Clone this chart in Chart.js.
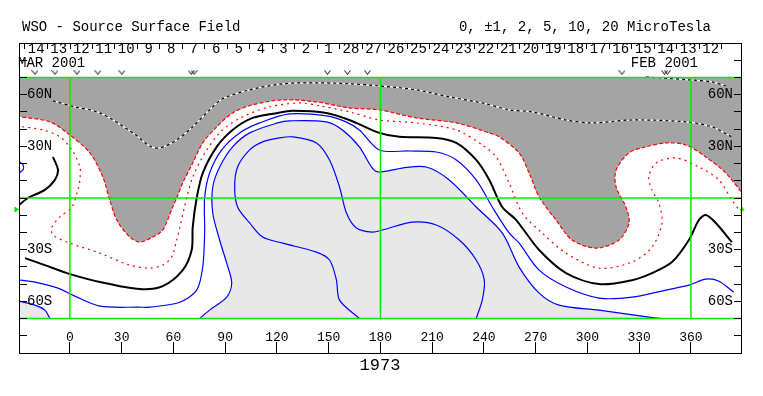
<!DOCTYPE html>
<html>
<head>
<meta charset="utf-8">
<title>WSO - Source Surface Field</title>
<script src="https://cdn.jsdelivr.net/npm/chart.js@4.4.1/dist/chart.umd.min.js"></script>
<style>
  html, body { margin: 0; padding: 0; background: #fff; }
  #wrap { width: 763px; height: 396px; }
</style>
</head>
<body>
<div id="wrap"><canvas id="sourceChart"></canvas></div>
<script>
// Оси: долгота (Кэррингтон) и широта
const lonMin = -29.5, lonMax = 389.0;
const latMin = -90, latMax = 90;
const lonTicks = [0, 30, 60, 90, 120, 150, 180, 210, 240, 270, 300, 330, 360];
const latTicks = [80, 70, 60, 50, 40, 30, 20, 10, 0, -10, -20, -30, -40, -50, -60, -70, -80];
const latLabelValues = [60, 30, -30, -60];
const latLabelTexts = ['60N', '30N', '30S', '60S'];

// Дни оборота (верхняя шкала)
const dayEdges = [-26.0, -13.0, 0.1, 13.1, 26.1, 39.2, 52.2, 65.2, 78.2, 91.3, 104.3, 117.3, 130.4, 143.4, 156.4, 169.5,
  182.5, 195.5, 208.5, 221.6, 234.6, 247.6, 260.7, 273.7, 286.7, 299.7, 312.8, 325.8, 338.8, 351.9, 364.9, 377.9];
const dayLabels = ['14', '13', '12', '11', '10', '9', '8', '7', '6', '5', '4', '3', '2', '1',
  '28', '27', '26', '25', '24', '23', '22', '21', '20', '19', '18', '17', '16', '15', '14', '13', '12'];
const obsLons = [-20.3, -8.7, 4.1, 16.2, 30.1, 70.3, 72.0, 149.3, 160.9, 172.5, 320.0, 344.6, 346.3];
const obsLat = 73;
const earthLat = -6.7;

// Зелёные опорные линии
const guideLats = [70, 0, -70];
const guideLons = [0, 180, 360];

// Граница отрицательной области (красный пунктир, тёмная заливка)
const negEdgeLon = [-31, -11.6, 0, 11.6, 19.1, 23.1, 27.2, 34.7, 40.5, 48.0, 53.8, 59.6, 61.9, 65.4, 71.2, 77.0, 85.1, 94.3,
  105.9, 123.3, 142.9, 162.0, 179.4, 200.8, 224.0, 243.1, 248.8, 260.4, 266.2, 272.0, 281.8, 291.1, 305.0, 318.3, 324.1,
  322.3, 316.6, 316.6, 324.1, 333.9, 345.5, 357.1, 368.6, 380.2, 390];
const negEdgeLat = [47.5, 44.2, 36.6, 26.2, 12.2, -1.2, -12.8, -22.7, -25.6, -22.7, -18.6, -5.2, 0, 8.7, 20.3, 32.0, 41.3, 49.4,
  54.1, 57.0, 55.8, 52.3, 51.2, 46.5, 43.6, 37.8, 35.5, 26.2, 14.5, 0.6, -12.8, -24.4, -29.1, -24.4, -14.5,
  -5.2, 6.4, 16.3, 26.2, 29.7, 32.0, 30.8, 23.8, 14.5, 2.5];

// Внутренний контур в тёмной области (чёрно-белый пунктир)
const negCoreLon = [-9.8, 2.9, 17.4, 36.5, 46.3, 52.1, 61.9, 71.2, 81.0, 88.5, 104.2, 123.3, 142.9, 162.0, 179.4, 200.8,
  219.9, 239.0, 254.6, 267.9, 287.6, 302.7, 325.8, 357.1, 372.1, 383.7];
const negCoreLat = [56.4, 52.9, 49.4, 37.8, 30.2, 29.1, 33.7, 41.3, 51.2, 57.6, 62.8, 66.3, 66.9, 66.3, 65.1, 62.8,
  58.7, 55.2, 51.2, 50.0, 45.3, 43.6, 45.3, 44.2, 41.3, 35.5];
const negCapLon = [334.0, 358.8, 372.1, 380.2];
const negCapLat = [70.3, 68.6, 67.4, 65.1];

// Второй отрицательный контур (красные точки)
const negRingLon = [-31, -15.6, -5.8, 1.2, 5.8, 5.8, 4.6, 1.2, -5.8, -10.4, -9.8, 0, 17.4, 34.7, 46.3, 53.8, 59.0, 61.9,
  63.7, 67.7, 71.2, 79.3, 88.5, 100.1, 115.7, 133.1, 144.7, 162.0, 179.4, 200.8, 224.0, 239.0, 247.1, 254.6, 262.2,
  273.7, 287.6, 306.7, 325.8, 337.4, 343.2, 341.4, 337.4, 335.6, 339.7, 351.3, 364.6, 376.2, 383.7, 390];
const negRingLat = [41.8, 39.5, 35.5, 27.9, 18.0, 10.5, 4.7, -5.2, -11.0, -16.9, -21.5, -26.2, -32.0, -39.0, -40.7, -39.0, -34.3, -24.4,
  -16.9, 0, 12.2, 27.9, 39.5, 47.1, 52.9, 55.2, 53.5, 50.0, 45.3, 43.6, 39.5, 30.8, 23.8, 8.7, -8.7,
  -20.3, -32.0, -40.7, -37.2, -28.5, -14.5, -2.9, 4.7, 12.2, 20.3, 23.3, 18.0, 10.5, -1.2, -9.5];

// Нейтральная линия (чёрная)
const zeroArcLon = [-9.8, -6.9, -8.7, -14.5, -24.3, -31];
const zeroArcLat = [23.8, 16.3, 10.5, 4.7, 0, -5.4];
const zeroLon = [-26.0, -14.5, -1.7, 17.4, 40.5, 53.8, 65.4, 70.6, 71.2, 73.5, 77.0, 85.1, 94.3, 105.9, 120.4, 129.1, 148.7,
  162.0, 179.4, 191.0, 212.4, 224.0, 235.5, 243.1, 250.6, 258.7, 272.0, 287.6, 306.7, 325.8, 337.4, 349.0, 358.8,
  364.6, 368.6, 374.4, 383.7];
const zeroLat = [-34.9, -39.0, -43.6, -48.8, -52.9, -51.2, -41.9, -30.2, -16.9, 0, 14.5, 29.7, 39.5, 46.5, 49.4, 50.6, 49.4,
  45.3, 37.8, 35.5, 34.9, 32.0, 22.1, 10.5, -5.2, -12.8, -30.2, -43.6, -50.0, -47.7, -43.6, -37.2, -24.4,
  -12.8, -9.9, -14.5, -25.6];

// Положительные контуры (синие)
const posOuterLon = [-31, -20.3, -6.9, 2.9, 17.4, 40.5, 46.3, 63.7, 73.5, 77.0, 78.1, 78.1, 81.0, 88.0, 98.4, 110.0, 127.3,
  148.7, 160.0, 167.8, 179.4, 196.8, 212.4, 224.0, 235.5, 244.8, 254.6, 260.4, 272.0, 287.6, 306.7, 325.8, 345.5,
  358.8, 368.6, 376.2, 384.8];
const posOuterLat = [-47.4, -48.8, -52.3, -57.0, -62.8, -63.4, -63.4, -60.5, -53.5, -40.1, -20.3, 0, 14.5, 27.9, 37.8, 43.6, 48.8,
  47.7, 44.2, 39.5, 27.9, 27.3, 26.7, 22.1, 10.5, -5.2, -20.3, -26.2, -41.9, -51.7, -58.1, -57.6, -53.5,
  -50.6, -47.1, -48.3, -54.7];
const posMidLon = [75.2, 81.0, 90.9, 93.8, 90.9, 86.8, 82.8, 82.8, 86.8, 94.3, 104.2, 120.4, 127.3, 148.7, 158.0, 167.8,
  175.3, 179.4, 192.7, 206.6, 219.9, 235.5, 250.6, 260.4, 272.0, 283.6, 306.7, 335.6, 343.2];
const posMidLat = [-70, -65.1, -57.6, -49.4, -37.8, -24.4, -8.7, 6.4, 18.0, 29.7, 37.8, 43.6, 44.8, 44.2, 39.5, 29.7,
  17.4, 15.1, 17.4, 18.0, 10.5, -5.2, -20.3, -40.1, -55.2, -62.2, -65.1, -69.2, -70];
const posCornerLon = [-31, -20.3, -14.5, -11.6];
const posCornerLat = [-59.5, -62.2, -65.1, -70];
const posInnerLon = [167.8, 156.3, 154.5, 150.5, 142.9, 123.3, 111.7, 104.2, 97.2, 95.5, 97.2, 104.2, 111.7, 121.5, 129.1,
  142.9, 150.5, 156.3, 160.3, 166.1, 175.3, 181.1, 198.5, 212.4, 225.7, 235.5, 240.2, 239.0, 235.5];
const posInnerLat = [-70, -59.3, -47.7, -36.0, -31.4, -26.2, -22.7, -14.5, -5.2, 6.4, 18.0, 27.9, 32.6, 34.9, 35.5,
  32.0, 22.1, 6.4, -8.7, -17.4, -19.8, -18.6, -14.0, -15.7, -24.4, -36.0, -47.7, -59.3, -70];
const posArcLon = [-31, -27.2, -27.2, -31];
const posArcLat = [22.5, 19.2, 16.3, 13.6];

const titleText = 'WSO - Source Surface Field';
const unitsText = '0, \u00b11, 2, 5, 10, 20 MicroTesla';
const startMonth = 'MAR 2001';
const endMonth = 'FEB 2001';
const rotationLabel = '1973';

const FONT = '"Liberation Mono", "DejaVu Sans Mono", monospace';

// Точки контура из массивов долгот и широт
function points(lons, lats) {
    return lons.map((x, i) => ({ x: x, y: lats[i] }));
}

function contour(lons, lats, color, width, dash, extra) {
    return Object.assign({
        data: points(lons, lats),
        showLine: true,
        borderColor: color,
        borderWidth: width,
        borderDash: dash || [],
        pointRadius: 0,
        fill: false,
        order: 5
    }, extra || {});
}

// Маленький значок "v" для отметок наблюдений
function makeVMark() {
    const c = document.createElement('canvas');
    c.width = 7;
    c.height = 5;
    const g = c.getContext('2d');
    g.strokeStyle = '#000';
    g.lineWidth = 1;
    g.beginPath();
    g.moveTo(0.5, 0.5);
    g.lineTo(3.5, 4.5);
    g.lineTo(6.5, 0.5);
    g.stroke();
    return c;
}

function latLabel(v) {
    const k = latLabelValues.indexOf(v);
    return k >= 0 ? latLabelTexts[k] : '';
}

function buildDatasets() {
    const sets = [];
    // заливки вместе со своими контурами
    sets.push(contour(negEdgeLon, negEdgeLat, '#ff0000', 1.2, [4, 2],
        { fill: { value: 70 }, backgroundColor: '#a4a4a4', order: 10 }));
    sets.push(contour(posMidLon, posMidLat, '#0000ff', 1.2, [],
        { fill: { value: -70 }, backgroundColor: '#e8e8e8', order: 9 }));
    sets.push(contour(posCornerLon, posCornerLat, '#0000ff', 1.2, [],
        { fill: { value: -70 }, backgroundColor: '#e8e8e8', order: 9 }));

    // линии
    sets.push(contour(negCoreLon, negCoreLat, '#ffffff', 1.2, [], { order: 6 }));
    sets.push(contour(negCoreLon, negCoreLat, '#000000', 1.2, [3, 3]));
    sets.push(contour(negCapLon, negCapLat, '#ffffff', 1.2, [], { order: 6 }));
    sets.push(contour(negCapLon, negCapLat, '#000000', 1.2, [3, 3]));
    sets.push(contour(negRingLon, negRingLat, '#ff0000', 1.2, [2, 4]));
    sets.push(contour(zeroArcLon, zeroArcLat, '#000000', 2));
    sets.push(contour(zeroLon, zeroLat, '#000000', 2));
    sets.push(contour(posOuterLon, posOuterLat, '#0000ff', 1.2));
    sets.push(contour(posInnerLon, posInnerLat, '#0000ff', 1.2));
    sets.push(contour(posArcLon, posArcLat, '#0000ff', 1.2));

    // зелёная сетка
    guideLats.forEach(lat => {
        sets.push(contour([lonMin, lonMax], [lat, lat], '#00ee00', 1.5, [], { order: 2, tension: 0 }));
    });
    guideLons.forEach(lon => {
        sets.push(contour([lon, lon], [guideLats[2], guideLats[0]], '#00ee00', 1.5, [], { order: 2, tension: 0 }));
    });

    // отметки наблюдений
    sets.push({
        data: obsLons.map(x => ({ x: x, y: obsLat })),
        showLine: false,
        pointStyle: makeVMark(),
        pointRadius: 3,
        order: 1
    });
    // широта Земли
    sets.push({
        data: [{ x: lonMin - 1.7, y: earthLat }],
        showLine: false,
        pointStyle: 'triangle',
        rotation: 90,
        pointRadius: 2.5,
        backgroundColor: '#00ee00',
        borderColor: '#00ee00',
        borderWidth: 1,
        clip: false,
        order: 1
    });
    sets.push({
        data: [{ x: lonMax + 0.6, y: earthLat }],
        showLine: false,
        pointStyle: 'triangle',
        rotation: -90,
        pointRadius: 2,
        backgroundColor: '#00ee00',
        borderColor: '#00ee00',
        borderWidth: 1,
        clip: false,
        order: 1
    });
    return sets;
}

// Надписи над картой
const headerPlugin = {
    id: 'header',
    afterDraw(chart) {
        const ctx = chart.ctx;
        const area = chart.chartArea;
        ctx.save();
        ctx.fillStyle = '#000';
        ctx.font = '14px ' + FONT;
        ctx.textBaseline = 'middle';
        ctx.textAlign = 'left';
        ctx.fillText(titleText, area.left + 3, 27);
        ctx.fillText(startMonth, area.left - 1, 63);
        ctx.textAlign = 'right';
        ctx.fillText(unitsText, area.right - 30, 27);
        ctx.fillText(endMonth, area.right - 43, 63);
        ctx.restore();
    }
};

function renderChart() {
    const dayCenters = dayEdges.slice(1).map((e, i) => (dayEdges[i] + e) / 2);
    const ctx = document.getElementById('sourceChart').getContext('2d');

    new Chart(ctx, {
        type: 'scatter',
        data: { datasets: buildDatasets() },
        plugins: [headerPlugin],
        options: {
            responsive: true,
            maintainAspectRatio: false,
            animation: false,
            devicePixelRatio: 1,
            layout: { padding: 0 },
            elements: { line: { tension: 0.3 }, point: { radius: 0 } },
            plugins: { legend: { display: false }, tooltip: { enabled: false } },
            scales: {
                x: {
                    type: 'linear', position: 'bottom', min: lonMin, max: lonMax,
                    afterBuildTicks: s => { s.ticks = lonTicks.map(v => ({ value: v })); },
                    afterFit: s => { s.height = 43; },
                    ticks: {
                        mirror: true, padding: 8, autoSkip: false, maxRotation: 0, color: '#000', z: 1,
                        font: { family: FONT, size: 13 },
                        callback: v => String(v)
                    },
                    grid: { drawTicks: false, color: '#000', lineWidth: 1, z: 1 },
                    border: { display: true, color: '#000', width: 1, dash: [0, 299, 11, 1000], z: 1 },
                    title: {
                        display: true, text: rotationLabel, color: '#000',
                        font: { family: FONT, size: 17 }, padding: { top: 0, bottom: 20 }
                    }
                },
                x2: {
                    type: 'linear', position: 'top', min: lonMin, max: lonMax,
                    afterBuildTicks: s => { s.ticks = dayCenters.map(v => ({ value: v })); },
                    afterFit: s => { s.height = 43; },
                    ticks: {
                        mirror: true, padding: -2, autoSkip: false, maxRotation: 0, color: '#000', z: 1,
                        font: { family: FONT, size: 14 },
                        callback: (v, i) => dayLabels[i]
                    },
                    grid: { drawTicks: false, offset: true, color: '#000', lineWidth: 1, z: 1 },
                    border: { display: true, color: '#000', width: 1, dash: [5, 1000], z: 1 }
                },
                y: {
                    type: 'linear', position: 'left', min: latMin, max: latMax,
                    afterBuildTicks: s => { s.ticks = latTicks.map(v => ({ value: v })); },
                    afterFit: s => { s.width = 19; },
                    ticks: {
                        mirror: true, padding: 8, autoSkip: false, color: '#000', z: 1,
                        font: { family: FONT, size: 14 },
                        callback: latLabel
                    },
                    grid: { drawTicks: false, color: '#000', lineWidth: 1, z: 1 },
                    border: { display: true, color: '#000', width: 1, dash: [7, 707, 8, 1000], z: 1 }
                },
                y2: {
                    type: 'linear', position: 'right', min: latMin, max: latMax,
                    afterBuildTicks: s => { s.ticks = latTicks.map(v => ({ value: v })); },
                    afterFit: s => { s.width = 22; },
                    ticks: {
                        mirror: true, padding: -8, autoSkip: false, color: '#000', z: 1,
                        font: { family: FONT, size: 14 },
                        callback: latLabel
                    },
                    grid: { display: false, drawTicks: false },
                    border: { display: true, color: '#000', width: 1, z: 1 }
                }
            }
        }
    });
}

renderChart();
</script>
</body>
</html>
